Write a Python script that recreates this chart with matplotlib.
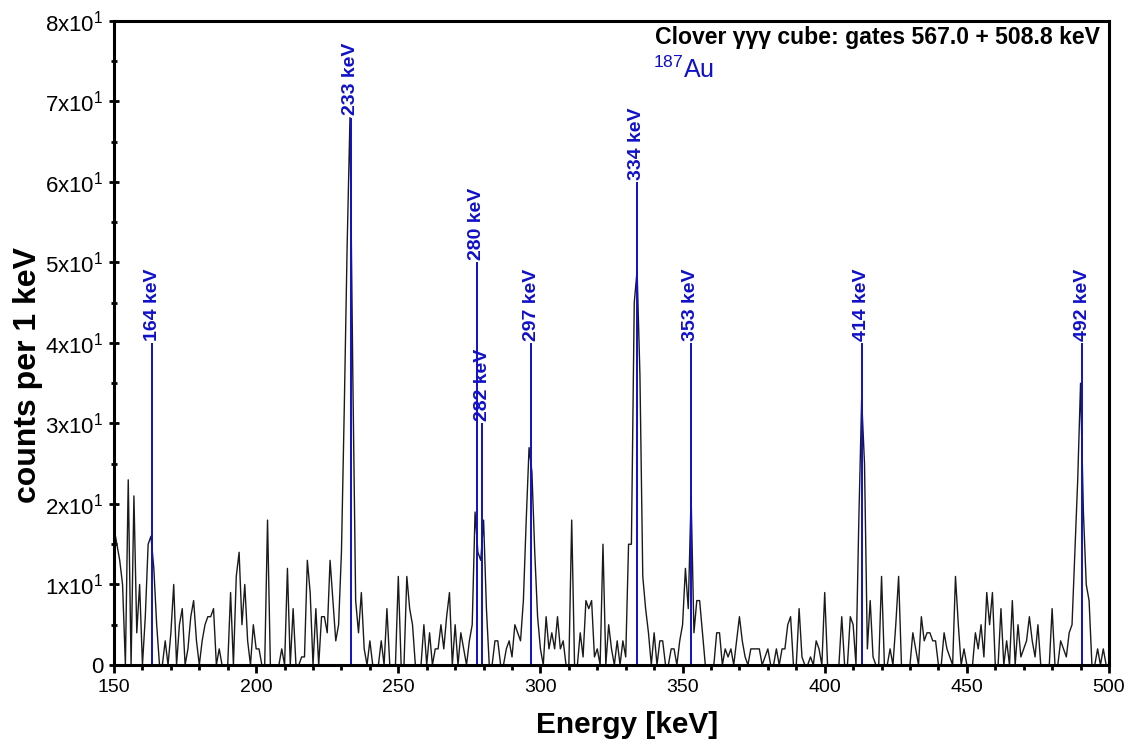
import numpy as np
import matplotlib
matplotlib.use('Agg')
import matplotlib.pyplot as plt
from matplotlib.ticker import MultipleLocator, FuncFormatter

plt.rcParams['font.family'] = ['Liberation Sans', 'DejaVu Sans']
plt.rcParams['mathtext.fontset'] = 'custom'
plt.rcParams['mathtext.rm'] = 'Liberation Sans'
plt.rcParams['mathtext.it'] = 'Liberation Sans:italic'
plt.rcParams['mathtext.bf'] = 'Liberation Sans:bold'

# ---- data (1 keV bins starting at 150 keV) ----
energy_start = 150
counts = [
    17, 15, 13, 10, 0, 23, 0, 21, 4, 10,      # 150
    0, 6, 15, 16, 12, 5, 0, 0, 3, 0,          # 160
    4, 10, 0, 5, 7, 0, 2, 6, 8, 3,            # 170
    0, 3, 5, 6, 6, 7, 0, 2, 0, 0,             # 180
    0, 9, 0, 11, 14, 5, 10, 3, 0, 5,          # 190
    2, 2, 0, 0, 18, 0, 0, 0, 0, 2,            # 200
    0, 12, 0, 7, 0, 0, 1, 1, 13, 9,           # 210
    0, 7, 0, 6, 6, 4, 13, 8, 3, 5,            # 220
    14, 32, 52, 68, 36, 8, 4, 9, 2, 0,        # 230
    3, 0, 0, 0, 3, 0, 7, 0, 0, 0,             # 240
    11, 0, 0, 11, 7, 5, 0, 0, 0, 5,           # 250
    0, 4, 0, 2, 2, 5, 2, 6, 9, 0,             # 260
    5, 0, 4, 2, 0, 3, 5, 19, 14, 13,          # 270
    18, 7, 0, 0, 3, 3, 0, 0, 2, 3,            # 280
    1, 5, 4, 3, 8, 18, 27, 24, 14, 6,         # 290
    2, 0, 6, 2, 4, 2, 6, 2, 3, 0,             # 300
    0, 18, 0, 0, 4, 1, 8, 7, 8, 1,            # 310
    2, 0, 15, 0, 5, 2, 0, 3, 0, 3,            # 320
    1, 15, 15, 45, 49, 36, 11, 7, 4, 0,       # 330
    4, 0, 3, 3, 0, 0, 2, 2, 0, 3,             # 340
    5, 12, 7, 21, 4, 8, 8, 4, 0, 0,           # 350
    0, 0, 4, 4, 0, 2, 1, 2, 0, 3,             # 360
    6, 3, 1, 0, 2, 2, 2, 2, 0, 1,             # 370
    2, 0, 0, 2, 0, 2, 2, 5, 6, 0,             # 380
    0, 7, 1, 0, 0, 1, 0, 3, 2, 0,             # 390
    9, 0, 0, 0, 0, 0, 6, 0, 0, 6,             # 400
    5, 0, 18, 33, 25, 2, 8, 1, 0, 0,          # 410
    11, 0, 0, 2, 0, 5, 11, 0, 0, 0,           # 420
    0, 4, 2, 0, 6, 3, 4, 4, 3, 3,             # 430
    0, 0, 4, 2, 1, 0, 11, 5, 0, 2,            # 440
    0, 0, 0, 4, 2, 5, 1, 9, 5, 9,             # 450
    0, 0, 7, 0, 3, 0, 8, 0, 5, 1,             # 460
    2, 3, 6, 3, 1, 5, 0, 0, 0, 0,             # 470
    7, 0, 0, 3, 2, 1, 4, 5, 14, 23,           # 480
    35, 19, 10, 8, 0, 0, 2, 0, 2, 0,          # 490
    0,                                        # 500
]
energy = np.arange(energy_start, energy_start + len(counts))

line_labels = ['164 keV', '233 keV', '280 keV', '282 keV', '297 keV',
               '334 keV', '353 keV', '414 keV', '492 keV']
line_energies = [163.4, 233.2, 277.6, 279.5, 296.7, 333.8, 352.8, 413.0, 490.6]
line_tops = [40, 68, 50, 30, 40, 60, 40, 40, 40]

title_text = 'Clover \u03b3\u03b3\u03b3 cube: gates 567.0 + 508.8 keV'
nucleus_text = r'$^{\mathregular{187}}$Au'

BLUE = '#1010c8'

fig = plt.figure(figsize=(11.38, 7.44), dpi=100)
ax = fig.add_axes([0.1002, 0.1062, 0.8743, 0.8656])

ax.plot(energy, counts, color='#1a1a1a', lw=1.0)
ax.vlines(line_energies, 0, line_tops, color=BLUE, lw=1.4)
for lab, e, t in zip(line_labels, line_energies, line_tops):
    ax.text(e, t + 0.3, lab, rotation=90, ha='center', va='bottom',
            color=BLUE, fontsize=14, fontweight='bold')

ax.set_xlim(150, 500)
ax.set_ylim(0, 80)
ax.xaxis.set_major_locator(MultipleLocator(50))
ax.xaxis.set_minor_locator(MultipleLocator(10))
ax.yaxis.set_major_locator(MultipleLocator(10))
ax.yaxis.set_minor_locator(MultipleLocator(5))


def yfmt(v, pos):
    if abs(v) < 1e-9:
        return '0'
    return r'$\mathregular{%dx10^{1}}$' % round(v / 10)


ax.yaxis.set_major_formatter(FuncFormatter(yfmt))

for s in ax.spines.values():
    s.set_linewidth(2.2)
ax.tick_params(axis='x', which='major', direction='out', length=6, width=2,
               labelsize=14, pad=4)
ax.tick_params(axis='x', which='minor', direction='out', length=3.5, width=2)
ax.tick_params(axis='y', which='major', direction='inout', length=7, width=2,
               labelsize=16, pad=4)
ax.tick_params(axis='y', which='minor', direction='inout', length=5, width=2)

ax.set_xlabel('Energy [keV]', fontsize=21.5, fontweight='bold')
ax.xaxis.set_label_coords(0.5156, -0.072)
ax.set_ylabel('counts per 1 keV', fontsize=23, fontweight='bold')
ax.yaxis.set_label_coords(-0.071, 0.45)

ax.text(0.991, 0.964, title_text, transform=ax.transAxes, ha='right',
        va='baseline', fontsize=16.6, fontweight='bold', color='black')
ax.text(0.5417, 0.9115, nucleus_text, transform=ax.transAxes, ha='left',
        va='baseline', fontsize=18, color=BLUE)

fig.savefig('out.png', dpi=100)
